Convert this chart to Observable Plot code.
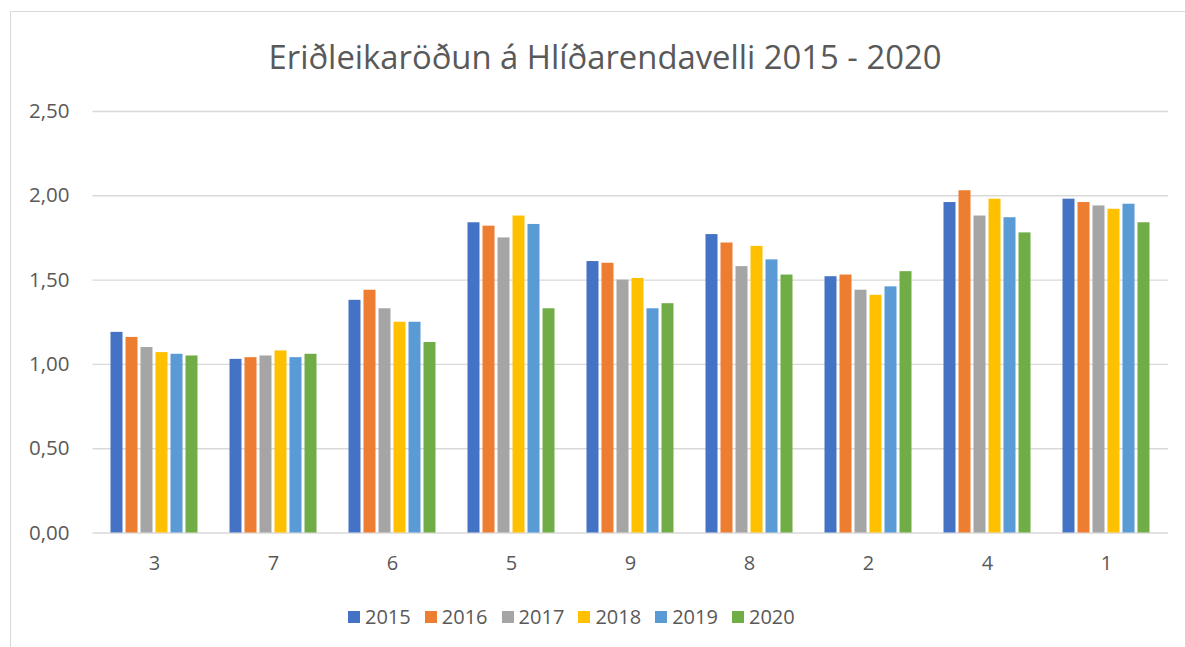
<!DOCTYPE html>
<html>
<head>
<meta charset="utf-8">
<script src="https://cdn.jsdelivr.net/npm/d3@7"></script>
<script src="https://cdn.jsdelivr.net/npm/@observablehq/plot@0.6"></script>
<style>
  html, body { margin: 0; padding: 0; background: #fff; }
  #chart { position: relative; width: 1185px; height: 647px; overflow: hidden; background: #fff; font-family: "Open Sans", sans-serif; color: #595959; }
  #border { position: absolute; left: 10px; top: 11px; width: 1300px; height: 800px; border: 1.5px solid #d9d9d9; box-sizing: border-box; }
  #title { position: absolute; left: 0; top: 41px; width: 1210px; text-align: center; font-size: 32.8px; line-height: 32.8px; white-space: nowrap; color: #595959; }
  .layer { position: absolute; left: 0; top: 95px; }
  #legend { position: absolute; left: 348px; top: 606.5px; height: 20px; display: flex; align-items: center; }
  .item { width: 76.8px; display: flex; align-items: center; font-size: 20px; line-height: 20px; }
  .sw { width: 12px; height: 12px; margin-right: 5px; flex: none; }
</style>
</head>
<body>
<div id="chart">
  <div id="border"></div>
  <div id="title">Eriðleikaröðun á Hlíðarendavelli 2015 - 2020</div>
  <div id="grid" class="layer"></div>
  <div id="bars" class="layer"></div>
  <div id="legend"></div>
</div>
<script>
const categories = ["3", "7", "6", "5", "9", "8", "2", "4", "1"];
const years = ["2015", "2016", "2017", "2018", "2019", "2020"];
const colors = ["#4472C4", "#ED7D31", "#A5A5A5", "#FFC000", "#5B9BD5", "#70AD47"];
const values2015 = [1.19, 1.03, 1.38, 1.84, 1.61, 1.77, 1.52, 1.96, 1.98];
const values2016 = [1.16, 1.04, 1.44, 1.82, 1.60, 1.72, 1.53, 2.03, 1.96];
const values2017 = [1.10, 1.05, 1.33, 1.75, 1.50, 1.58, 1.44, 1.88, 1.94];
const values2018 = [1.07, 1.08, 1.25, 1.88, 1.51, 1.70, 1.41, 1.98, 1.92];
const values2019 = [1.06, 1.04, 1.25, 1.83, 1.33, 1.62, 1.46, 1.87, 1.95];
const values2020 = [1.05, 1.06, 1.13, 1.33, 1.36, 1.53, 1.55, 1.78, 1.84];
const yTickValues = [0, 0.5, 1, 1.5, 2, 2.5];

const series = [values2015, values2016, values2017, values2018, values2019, values2020];
const data = [];
categories.forEach((c, i) => {
  years.forEach((y, j) => data.push({cat: c, year: y, value: series[j][i]}));
});

const W = 1185, H = 490;
const margins = {marginLeft: 92.5, marginRight: 17, marginTop: 16, marginBottom: 52.5};
const fmt = d => d3.format(".2f")(d).replace(".", ",");

const grid = Plot.plot({
  width: W, height: H, ...margins,
  style: {fontFamily: "Open Sans", fontSize: "20.5px", color: "#595959", background: "transparent"},
  y: {domain: [0, 2.5], ticks: 5, tickFormat: fmt, tickSize: 0, tickPadding: 23.5, label: null},
  marks: [
    Plot.ruleY(yTickValues, {stroke: "#d9d9d9", strokeWidth: 1.4})
  ]
});
document.getElementById("grid").appendChild(grid);

const bars = Plot.plot({
  width: W, height: H, ...margins,
  style: {fontFamily: "Open Sans", fontSize: "20px", color: "#595959", background: "transparent"},
  facet: {data: data, x: "cat"},
  fx: {domain: categories, paddingInner: 0.23, paddingOuter: 0.115, axis: "bottom", label: null, tickSize: 0, tickPadding: 23},
  x: {domain: years, paddingInner: 0.18, paddingOuter: 0, axis: null},
  y: {domain: [0, 2.5], axis: null},
  color: {domain: years, range: colors},
  marks: [
    Plot.barY(data, {x: "year", y: "value", fill: "year"})
  ]
});
document.getElementById("bars").appendChild(bars);

const legend = document.getElementById("legend");
years.forEach((y, j) => {
  const it = document.createElement("div");
  it.className = "item";
  const sw = document.createElement("div");
  sw.className = "sw";
  sw.style.background = colors[j];
  const t = document.createElement("span");
  t.textContent = y;
  it.appendChild(sw);
  it.appendChild(t);
  legend.appendChild(it);
});
</script>
</body>
</html>
